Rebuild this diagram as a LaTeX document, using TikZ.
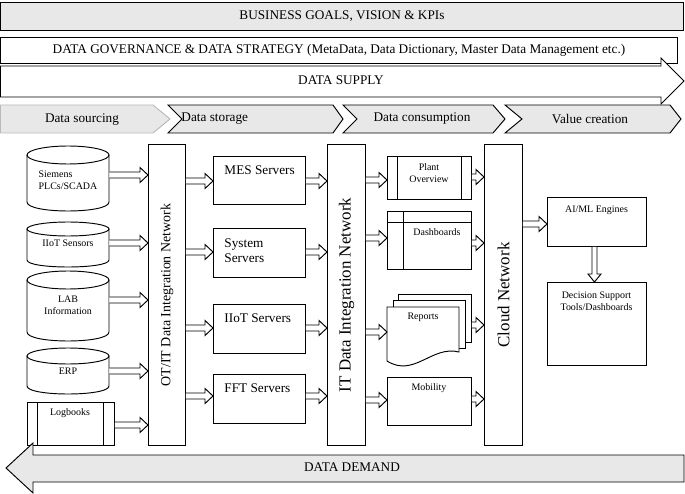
\documentclass[tikz,border=0pt]{standalone}
\usepackage{fontspec}
\setmainfont{Liberation Serif}
\usetikzlibrary{calc}
\definecolor{lg}{gray}{0.91}
\newcommand\cylshape[5]{%
  \draw[fill=white] ({(#1+#2)/2},{#3+#5}) ellipse [x radius={(#2-#1)/2}, y radius=#5];
  \draw (#1,{#3+#5}) -- (#1,{#4-#5}) .. controls (#1,{#4+#5/3}) and (#2,{#4+#5/3}) .. (#2,{#4-#5}) -- (#2,{#3+#5});}
\begin{document}
\begin{tikzpicture}[x=1bp,y=-1bp,line width=0.95bp,
  big/.style={font=\fontsize{13.3}{15}\selectfont},
  small/.style={font=\fontsize{10}{12}\selectfont, align=center},
  box/.style={draw, fill=white, inner sep=0pt, anchor=north west},
  vtext/.style={rotate=90, inner sep=0pt},
  harrow/.style={fill=white, to path={let \p1=(\tikztostart), \p2=(\tikztotarget) in
    (\x1,\y1+3bp) -- (\x2-8bp,\y1+3bp) -- (\x2-8bp,\y1+7.5bp) -- (\x2,\y1) -- (\x2-8bp,\y1-7.5bp) -- (\x2-8bp,\y1-3bp) -- (\x1,\y1-3bp)}},
  varrow/.style={fill=white, to path={let \p1=(\tikztostart), \p2=(\tikztotarget) in
    (\x1-2.5bp,\y1) -- (\x1-2.5bp,\y2+8bp) -- (\x1-6.5bp,\y2+8bp) -- (\x1,\y2) -- (\x1+6.5bp,\y2+8bp) -- (\x1+2.5bp,\y2+8bp) -- (\x1+2.5bp,\y1)}},
  chev/.style={draw, fill=lg}
]
\useasboundingbox (0,0) rectangle (685,494);

% ---------- banners ----------
\node[box, fill=lg, minimum width=682bp, minimum height=28bp, big] (goals) at (0.5,2) {BUSINESS GOALS, VISION \& KPIs};
\node[box, minimum width=676bp, minimum height=26bp, big] (gov) at (0.5,37) {DATA GOVERNANCE \& DATA STRATEGY (MetaData, Data Dictionary, Master Data Management etc.)};
\draw[fill=white] (0.5,66) -- (661,66) -- (661,58) -- (684,81) -- (661,104) -- (661,97) -- (0.5,97) -- cycle;
\node[big] (supply) at (341,80.5) {DATA SUPPLY};

% ---------- chevrons ----------
\draw[draw=gray!55, fill=lg] (0.5,105) -- (153,105) -- (170,119) -- (153,133) -- (0.5,133) -- cycle;
\node[big] (csrc) at (82,120) {Data sourcing};
\draw[chev] (168,105) -- (333,105) -- (343,119) -- (333,133) -- (168,133) -- (182,119) -- cycle;
\node[big, anchor=west, inner sep=0pt] (cstor) at (181,119) {Data storage};
\draw[chev] (343,105) -- (493,105) -- (505,119) -- (493,133) -- (343,133) -- (357,119) -- cycle;
\node[big] (ccons) at (422,119) {Data consumption};
\draw[chev] (505,105) -- (670,105) -- (681,119) -- (670,133) -- (505,133) -- (522,119) -- cycle;
\node[big] (cval) at (590,119) {Value creation};

% ---------- sources ----------
\cylshape{27}{109}{146}{211}{9}
\node[small, align=left, minimum width=82bp, inner sep=0pt] (sie) at (68,180) {Siemens\\PLCs/SCADA};
\cylshape{27}{109}{222}{267}{7}
\node[small, minimum width=82bp, inner sep=0pt] (iiot) at (68,243) {IIoT Sensors};
\cylshape{27}{109}{271}{341}{9}
\node[small, minimum width=82bp, inner sep=0pt] (lab) at (68,305.5) {LAB\\Information};
\cylshape{27}{109}{348}{394}{8}
\node[small, minimum width=82bp, inner sep=0pt] (erp) at (68,371) {ERP};
\node[box, minimum width=87bp, minimum height=43bp] (logb) at (27,402) {};
\draw ([xshift=10bp]logb.north west) -- ([xshift=10bp]logb.south west);
\draw ([xshift=-11bp]logb.north east) -- ([xshift=-11bp]logb.south east);
\node[small] (logbt) at (70,413) {Logbooks};

% ---------- OT/IT network ----------
\node[box, minimum width=37bp, minimum height=301bp] (otit) at (148,144) {};
\node[vtext, font=\fontsize{14}{16}\selectfont] (otitt) at (otit.center) {OT/IT Data Integration Network};

% ---------- servers ----------
\node[box, minimum width=92bp, minimum height=48bp] (mes) at (213,156) {};
\node[big, anchor=west, inner sep=0pt] (mest) at (224,170) {MES Servers};
\node[box, minimum width=92bp, minimum height=49bp] (sys) at (213,228) {};
\node[big, anchor=west, align=left, inner sep=0pt] (syst) at (224,250.5) {System\\Servers};
\node[box, minimum width=92bp, minimum height=49bp] (iiots) at (213,304) {};
\node[big, anchor=west, inner sep=0pt] (iiotst) at (224,318) {IIoT Servers};
\node[box, minimum width=92bp, minimum height=49bp] (fft) at (213,374) {};
\node[big, anchor=west, inner sep=0pt] (fftt) at (224,388) {FFT Servers};

% ---------- IT network ----------
\node[box, minimum width=38bp, minimum height=301bp] (itn) at (327,144) {};
\node[vtext, font=\fontsize{17}{19}\selectfont] (itnt) at (itn.center) {IT Data Integration Network};

% ---------- consumption ----------
\node[box, minimum width=84bp, minimum height=43bp] (plant) at (387,156) {};
\draw ([xshift=10bp]plant.north west) -- ([xshift=10bp]plant.south west);
\draw ([xshift=-10bp]plant.north east) -- ([xshift=-10bp]plant.south east);
\node[small] (plantt) at (429,173.5) {Plant\\Overview};

\node[box, minimum width=84bp, minimum height=58bp] (dash) at (387,211) {};
\draw ([xshift=16bp]dash.north west) -- ([xshift=16bp]dash.south west);
\draw ([yshift=-11bp]dash.north west) -- ([yshift=-11bp]dash.north east);
\node[small] (dasht) at (437,232) {Dashboards};

\node[box, minimum width=73bp, minimum height=48bp] (rep3) at (398,294) {};
\node[box, minimum width=72bp, minimum height=48bp] (rep2) at (393,300) {};
\draw[fill=white] (387,307) -- (459,307) -- (459,352) .. controls (432,345) and (414,378) .. (387,361) -- cycle;
\node[small] (rep) at (423,317) {Reports};
\coordinate (repin) at (387,332);

\node[box, minimum width=84bp, minimum height=48bp] (mob) at (387,377) {};
\node[small] (mobt) at (429,388) {Mobility};

% ---------- cloud ----------
\node[box, minimum width=38bp, minimum height=301bp] (cloud) at (484,144) {};
\node[vtext, font=\fontsize{17}{19}\selectfont] (cloudt) at (cloud.center) {Cloud Network};

% ---------- value ----------
\node[box, minimum width=99bp, minimum height=49bp] (ai) at (547,197) {};
\node[small] (ait) at (596.5,210) {AI/ML Engines};
\node[box, minimum width=99bp, minimum height=83bp] (ds) at (547,282) {};
\node[small] (dst) at (596.5,301) {Decision Support\\Tools/Dashboards};

% ---------- data demand ----------
\draw[fill=lg] (684,455) -- (33,455) -- (33,443) -- (6,468) -- (33,493) -- (33,482) -- (684,482) -- cycle;
\node[big] (demand) at (352,467.5) {DATA DEMAND};

% ---------- connectors ----------
\foreach \nm/\yy in {sie/175, iiot/243, lab/300, erp/371, logb/425}
  \draw[harrow] (\nm.east |- 0,\yy) to (otit.west |- 0,\yy);
\foreach \nm/\yy in {mes/181, sys/252, iiots/328, fft/396} {
  \draw[harrow] (otit.east |- 0,\yy) to (\nm.west |- 0,\yy);
  \draw[harrow] (\nm.east |- 0,\yy) to (itn.west |- 0,\yy);
}
\foreach \nm/\yy in {plant/180, dash/238, mob/400}
  \draw[harrow] (itn.east |- 0,\yy) to (\nm.west |- 0,\yy);
\draw[harrow] (itn.east |- repin) to (repin);
\foreach \nm/\yy in {plant/177, dash/243, rep3/325, mob/399}
  \draw[harrow] (\nm.east |- 0,\yy) to (cloud.west |- 0,\yy);
\draw[harrow] (cloud.east |- 0,224) to (ai.west |- 0,224);
\draw[varrow] ([xshift=-2.5bp]ai.south) to ([xshift=-2.5bp]ds.north);
\end{tikzpicture}
\end{document}
